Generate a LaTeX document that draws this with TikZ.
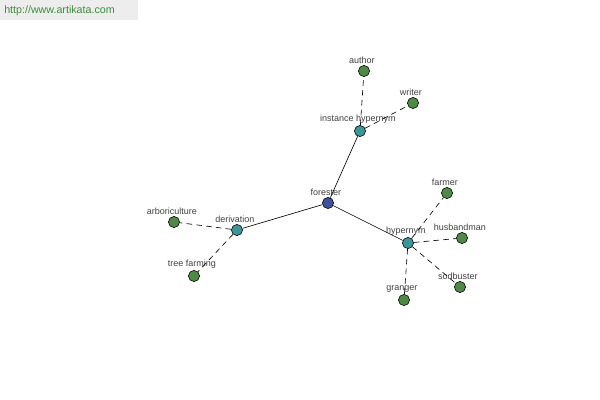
\documentclass[tikz,border=0pt]{standalone}
\usepackage{fontspec}
\setmainfont{Liberation Sans}
\usetikzlibrary{positioning}
\definecolor{leafgreen}{HTML}{4E8A45}
\definecolor{relteal}{HTML}{3E9597}
\definecolor{rootblue}{HTML}{414F9C}
\definecolor{urlgreen}{HTML}{3C8C3C}
\tikzset{
  wn/.style={circle,draw=black,line width=0.4pt,minimum size=2.8mm,inner sep=0pt},
  leaf/.style={wn,fill=leafgreen},
  rel/.style={wn,fill=relteal},
  root/.style={wn,fill=rootblue},
  lbl/.style={font=\fontsize{6.4}{7}\selectfont,text=black!75,inner sep=0.8pt,xshift=-1.5pt},
  link/.style={line width=0.45pt},
  synlink/.style={line width=0.45pt,dash pattern=on 4pt off 3pt},
}

\begin{document}
\begin{tikzpicture}[x=0.025cm,y=-0.025cm]
  \useasboundingbox (0,0) rectangle (600,400);
  \fill[black!7] (0,0) rectangle (138,20);
  \node[anchor=west,font=\fontsize{7.6}{9}\selectfont,text=urlgreen,inner sep=0pt] (url) at (4,11) {http://www.artikata.com};
  % centre word and its relations
  \node[root,label={[lbl]above:forester}] (forester) at (328,203) {};
  \node[rel,label={[lbl]above:instance hypernym}] (inst) at (360,131) {};
  \node[rel,label={[lbl]above:derivation}] (deriv) at (237,230) {};
  \node[rel,label={[lbl]above:hypernym}] (hyper) at (408,243) {};
  % words of each relation
  \node[leaf,label={[lbl]above:author}] (author) at (364,71) {};
  \node[leaf,label={[lbl]above:writer}] (writer) at (413,103) {};
  \node[leaf,label={[lbl]above:arboriculture}] (arbor) at (174,222) {};
  \node[leaf,label={[lbl]above:tree farming}] (treefarm) at (194,276) {};
  \node[leaf,label={[lbl]above:farmer}] (farmer) at (447,193) {};
  \node[leaf,label={[lbl]above:husbandman}] (husband) at (462,238) {};
  \node[leaf,label={[lbl]above:sodbuster}] (sodbust) at (460,287) {};
  \node[leaf,label={[lbl]above:granger}] (granger) at (404,300) {};
  \foreach \r in {inst,deriv,hyper}
    \draw[link] (forester) -- (\r);
  \foreach \r/\w in {inst/author,inst/writer,deriv/arbor,deriv/treefarm,
                     hyper/farmer,hyper/husband,hyper/sodbust,hyper/granger}
    \draw[synlink] (\r) -- (\w);
\end{tikzpicture}
\end{document}
